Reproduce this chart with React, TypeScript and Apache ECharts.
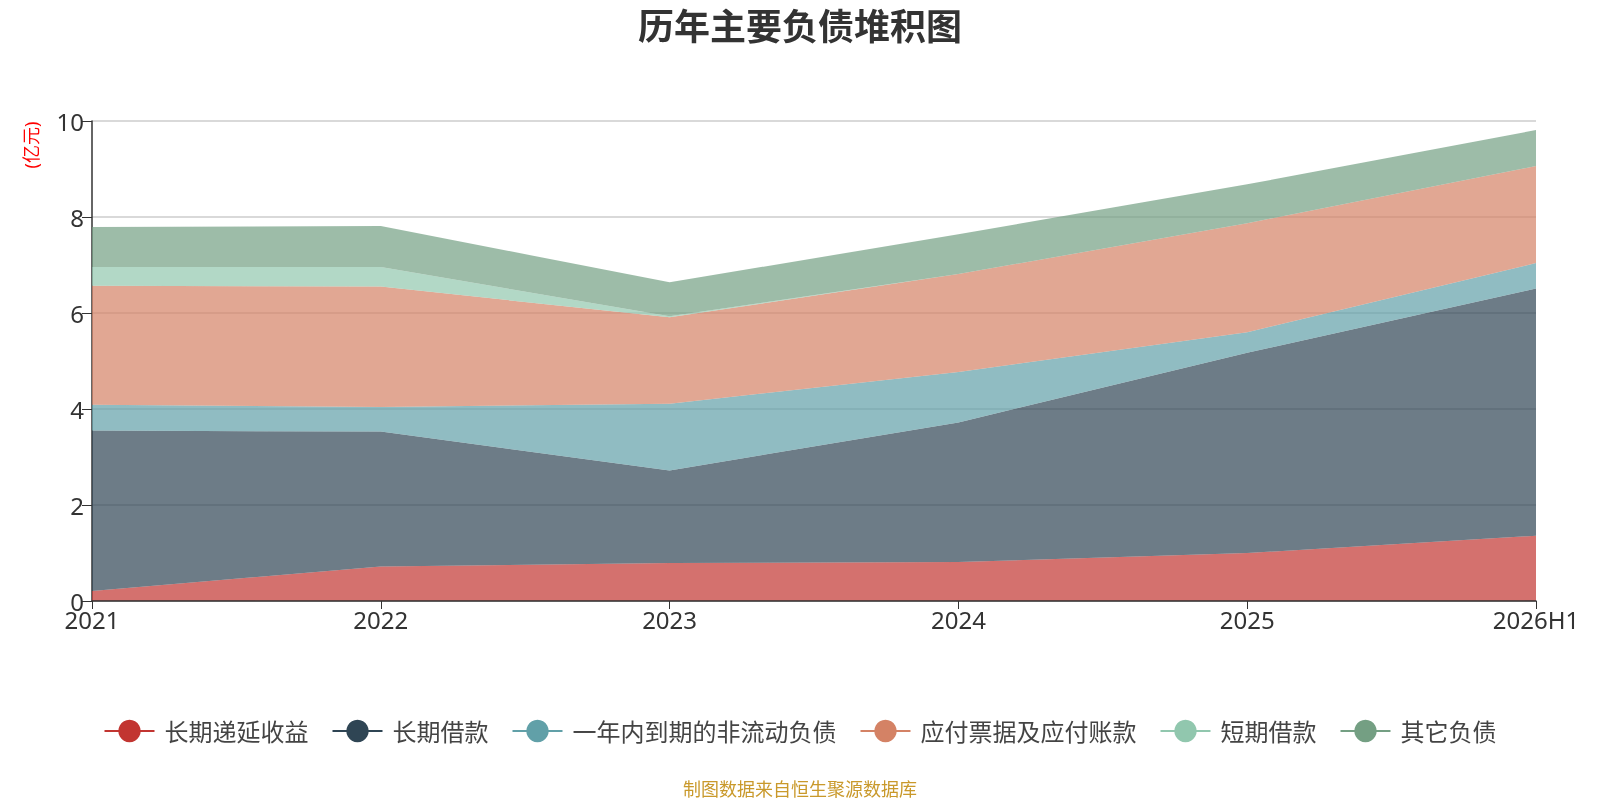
import React, { useEffect, useRef } from "react";
import * as echarts from "echarts";

const categories = ["2021", "2022", "2023", "2024", "2025", "2026H1"];
const yTicks = [0, 2, 4, 6, 8, 10];
const deferredIncome = [0.21, 0.72, 0.79, 0.81, 1.0, 1.36];
const longTermLoans = [3.34, 2.81, 1.93, 2.91, 4.17, 5.15];
const currentNonCurrent = [0.54, 0.51, 1.39, 1.05, 0.43, 0.53];
const payables = [2.48, 2.51, 1.8, 2.04, 2.27, 2.02];
const shortTermLoans = [0.39, 0.41, 0.02, 0, 0, 0];
const otherLiabilities = [0.83, 0.85, 0.71, 0.83, 0.81, 0.75];

const seriesNames = ["长期递延收益", "长期借款", "一年内到期的非流动负债", "应付票据及应付账款", "短期借款", "其它负债"];
const seriesData = [deferredIncome, longTermLoans, currentNonCurrent, payables, shortTermLoans, otherLiabilities];
const colors = ["#c23531", "#2f4554", "#61a0a8", "#d48265", "#91c7ae", "#749f83"];

const FONT = "'Noto Sans', 'Noto Sans CJK SC', sans-serif";

export default function App() {
  const ref = useRef<HTMLDivElement>(null);
  useEffect(() => {
    if (!ref.current) return;
    const chart = echarts.init(ref.current, undefined, { renderer: "svg" });
    chart.setOption({
      animation: false,
      color: colors,
      textStyle: { fontFamily: FONT },
      title: {
        text: "历年主要负债堆积图",
        left: "center",
        top: 3,
        textStyle: { fontSize: 36, fontWeight: "bold", color: "#333", fontFamily: FONT },
      },
      legend: {
        top: 714,
        left: "center",
        itemWidth: 50,
        itemHeight: 28,
        itemGap: 23,
        textStyle: { fontSize: 24, color: "#444", fontFamily: FONT, padding: [0, 0, 0, 5] },
        lineStyle: { width: 2 },
        data: seriesNames,
      },
      grid: { left: 92, right: 64, top: 121, bottom: 199, containLabel: false },
      xAxis: {
        type: "category",
        boundaryGap: false,
        data: categories,
        z: 5,
        axisLine: { lineStyle: { color: "#333", width: 1.5 } },
        axisTick: { show: true, length: 8, lineStyle: { color: "#333" } },
        axisLabel: { fontSize: 24, color: "#333", margin: 6, fontFamily: FONT },
      },
      yAxis: {
        type: "value",
        min: yTicks[0],
        max: yTicks[yTicks.length - 1],
        interval: 2,
        axisLine: { show: true, lineStyle: { color: "#333", width: 1.5 } },
        axisTick: { show: true, length: 10, lineStyle: { color: "#333" } },
        axisLabel: { fontSize: 24, color: "#333", margin: 8, fontFamily: FONT },
        splitLine: { show: true, lineStyle: { color: "#ccc", width: 1.5 } },
      },
      graphic: [
        {
          type: "text",
          x: 31,
          y: 145,
          rotation: Math.PI / 2,
          style: {
            text: "(亿元)",
            fill: "#ff0000",
            fontSize: 18,
            fontFamily: FONT,
            align: "center",
            verticalAlign: "middle",
          },
        },
        {
          type: "text",
          x: 800,
          y: 789,
          style: {
            text: "制图数据来自恒生聚源数据库",
            fill: "#c9992b",
            fontSize: 18,
            fontFamily: FONT,
            align: "center",
            verticalAlign: "middle",
          },
        },
      ],
      series: seriesNames.map((name, i) => ({
        name,
        type: "line",
        stack: "total",
        data: seriesData[i],
        symbol: "circle",
        showSymbol: false,
        lineStyle: { width: 0 },
        areaStyle: { opacity: 0.7 },
        itemStyle: { color: colors[i] },
      })),
    });
    return () => chart.dispose();
  }, []);
  return (
    <div
      ref={ref}
      style={{ position: "fixed", left: 0, top: 0, width: 1600, height: 800 }}
    />
  );
}
